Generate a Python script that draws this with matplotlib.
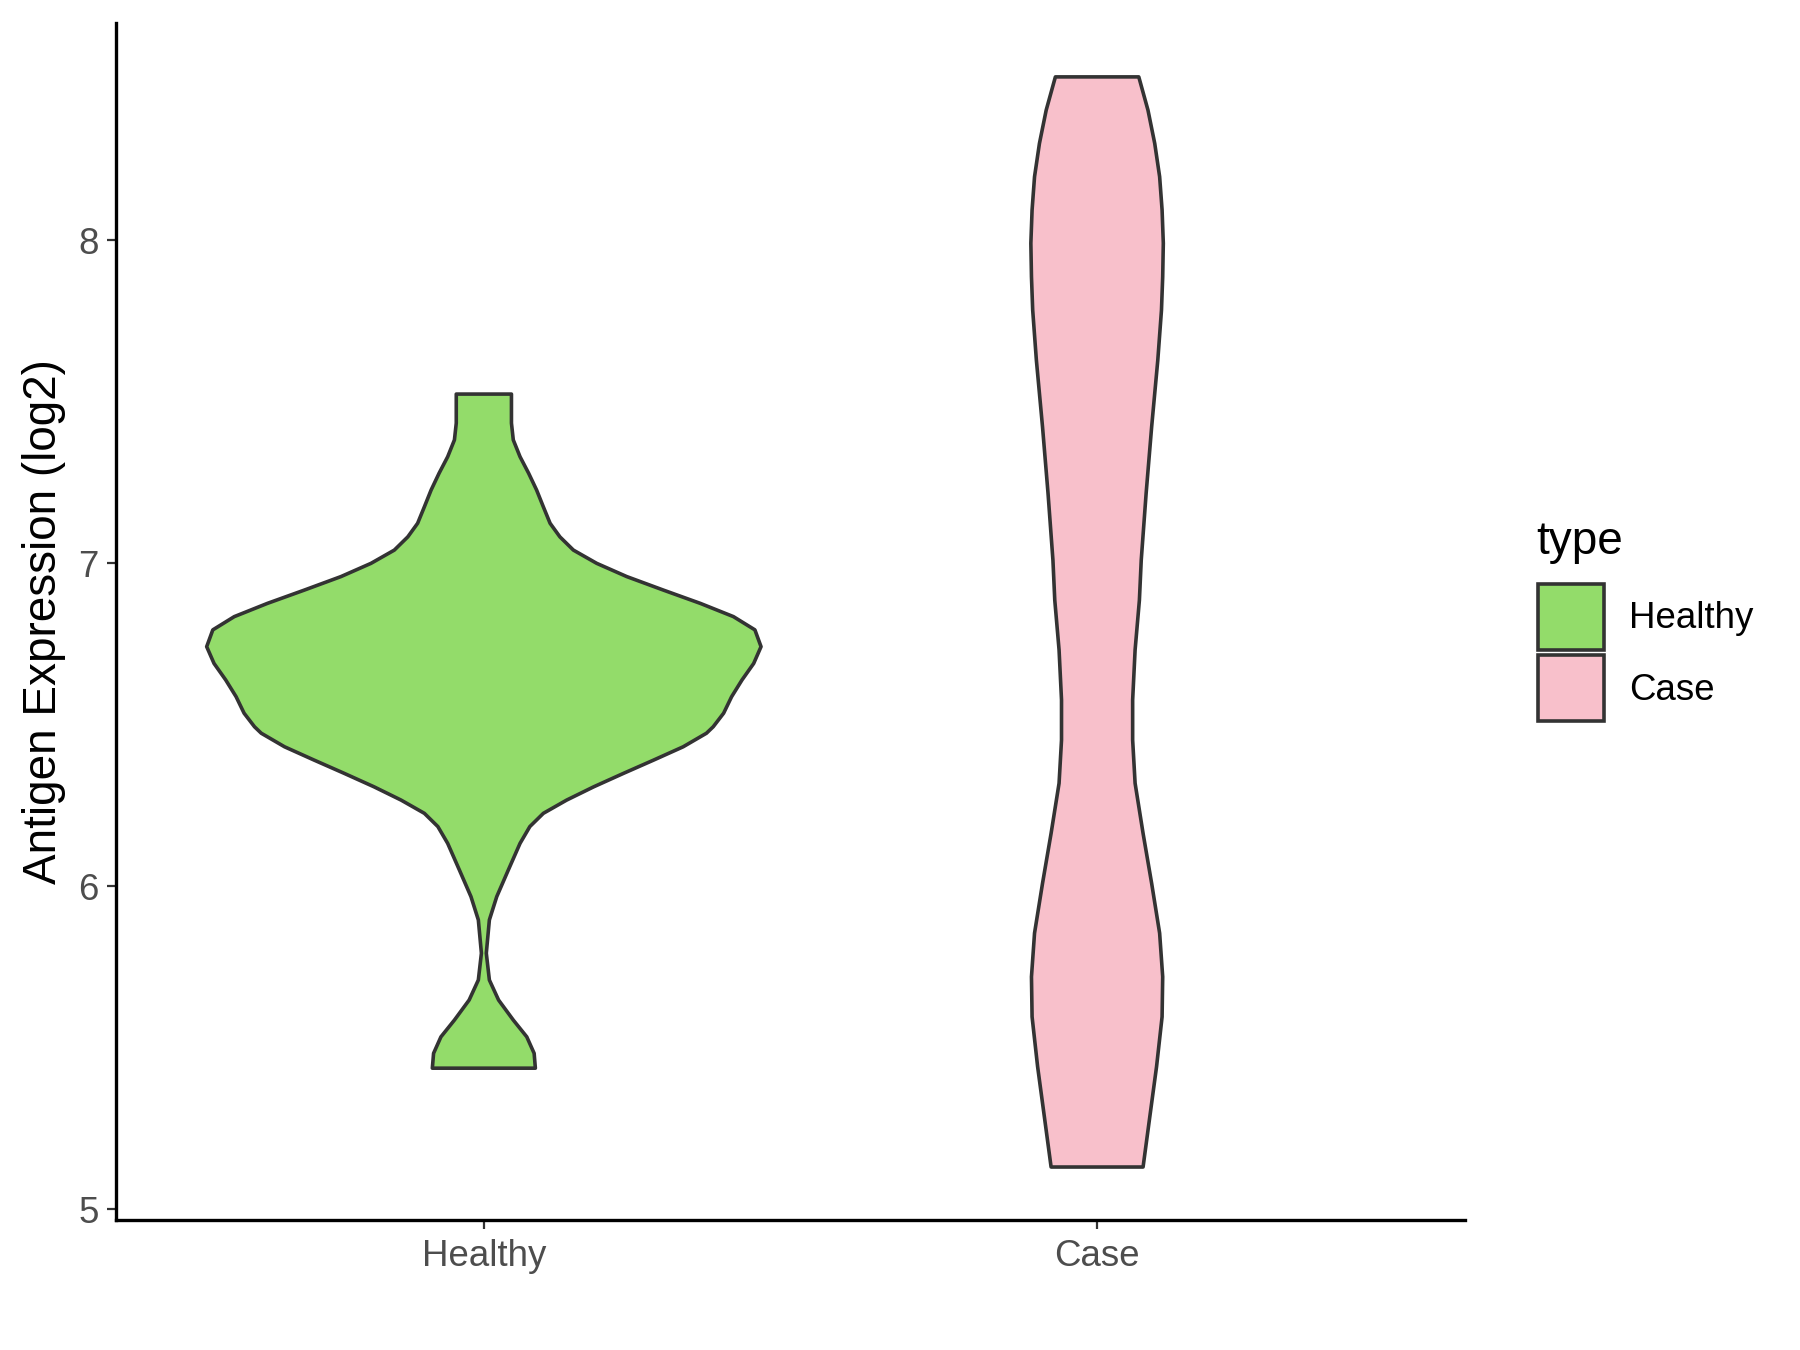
import numpy as np
import matplotlib.pyplot as plt
from matplotlib.patches import Patch

plt.rcParams['font.family'] = ['Liberation Sans', 'DejaVu Sans']

groups = ['Healthy', 'Case']
colors = ['#93DC6A', '#F8C0CB']

# violin outlines: y level and half width (x units)
healthy_y = [7.523, 7.433, 7.381, 7.329, 7.278, 7.226, 7.174, 7.123, 7.081, 7.040,
             6.999, 6.958, 6.916, 6.875, 6.834, 6.793, 6.741, 6.689, 6.638, 6.586,
             6.535, 6.493, 6.473, 6.431, 6.390, 6.349, 6.307, 6.266, 6.225, 6.184,
             6.132, 6.050, 5.967, 5.895, 5.792, 5.709, 5.647, 5.585, 5.533, 5.482,
             5.436]
healthy_w = [0.045, 0.045, 0.048, 0.059, 0.073, 0.086, 0.097, 0.108, 0.124, 0.146,
             0.184, 0.233, 0.293, 0.353, 0.407, 0.442, 0.452, 0.440, 0.421, 0.404,
             0.391, 0.374, 0.363, 0.325, 0.277, 0.228, 0.179, 0.135, 0.097, 0.075,
             0.059, 0.040, 0.021, 0.009, 0.004, 0.009, 0.024, 0.048, 0.070, 0.082,
             0.084]

case_y = [8.505, 8.402, 8.299, 8.196, 8.093, 7.990, 7.886, 7.783, 7.628, 7.422,
          7.216, 7.009, 6.885, 6.731, 6.576, 6.452, 6.318, 6.163, 6.008, 5.854,
          5.719, 5.595, 5.441, 5.286, 5.130]
case_w = [0.068, 0.083, 0.094, 0.102, 0.106, 0.108, 0.107, 0.105, 0.099, 0.089,
          0.080, 0.072, 0.069, 0.062, 0.058, 0.058, 0.062, 0.075, 0.089, 0.102,
          0.107, 0.106, 0.097, 0.086, 0.075]

profiles = [(healthy_y, healthy_w), (case_y, case_w)]

fig = plt.figure(figsize=(18, 13.5), dpi=100)
ax = fig.add_axes([0.0644, 0.0963, 0.7495, 0.8867])

for i, (yy, ww) in enumerate(profiles):
    pos = i + 1
    yy = np.array(yy)
    ww = np.array(ww)
    xs = np.concatenate([pos - ww, (pos + ww)[::-1]])
    ys = np.concatenate([yy, yy[::-1]])
    ax.fill(xs, ys, facecolor=colors[i], edgecolor='#333333', linewidth=2.6,
            joinstyle='round')

ax.set_xlim(0.4, 2.6)
ax.set_ylim(4.966, 8.672)
ax.set_xticks([1, 2])
ax.set_xticklabels(groups)
ax.set_yticks([5, 6, 7, 8])

for s in ['top', 'right']:
    ax.spines[s].set_visible(False)
for s in ['left', 'bottom']:
    ax.spines[s].set_linewidth(2.4)
    ax.spines[s].set_color('black')

ax.tick_params(axis='both', length=6.5, width=1.6, color='#333333',
               labelcolor='#4D4D4D', labelsize=26.4)
ax.tick_params(axis='x', pad=7)
ax.tick_params(axis='y', pad=6)
ax.set_ylabel('Antigen Expression (log2)', fontsize=33, labelpad=9)

# legend: title as separate text, keys via fig.legend
fig.text(1536 / 1800, 1 - 542 / 1350, 'type', fontsize=33, va='center', ha='left')
handles = [Patch(facecolor=c, edgecolor='#333333', linewidth=2.6) for c in colors]
leg = fig.legend(handles, groups, loc='upper left',
                 bbox_to_anchor=(1538 / 1800, 1 - 584 / 1350),
                 frameon=False, fontsize=26.4,
                 handlelength=1.8, handleheight=2.39, handletextpad=0.68,
                 labelspacing=0.15, borderpad=0, borderaxespad=0)

fig.savefig('out.png', dpi=100)
